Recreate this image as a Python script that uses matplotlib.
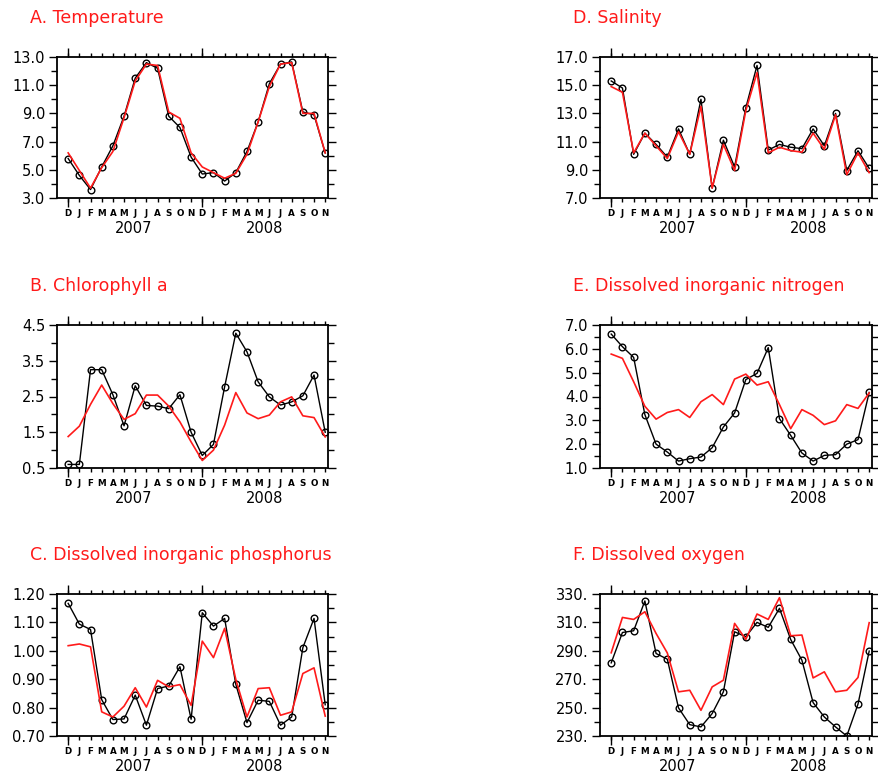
import matplotlib
matplotlib.use("Agg")
import numpy as np
import matplotlib.pyplot as plt
from matplotlib.ticker import FixedLocator, FuncFormatter
import matplotlib.transforms as mtransforms

# Monthly series, Dec 2006 - Nov 2008
month_labels = ["D", "J", "F", "M", "A", "M", "J", "J", "A", "S", "O", "N",
                "D", "J", "F", "M", "A", "M", "J", "J", "A", "S", "O", "N"]
year_labels = ["2007", "2008"]
year_centers = [5.9, 17.6]

temp_obs = [5.8, 4.6, 3.6, 5.2, 6.7, 8.8, 11.5, 12.6, 12.2, 8.8, 8.0, 5.9,
            4.7, 4.8, 4.2, 4.8, 6.3, 8.4, 11.1, 12.5, 12.65, 9.1, 8.9, 6.2]
temp_mod = [6.2, 4.95, 3.7, 5.15, 6.3, 8.7, 11.3, 12.5, 12.4, 9.1, 8.65, 6.2,
            5.2, 4.8, 4.4, 4.75, 6.1, 8.4, 10.9, 12.5, 12.6, 9.0, 9.0, 6.2]

chla_obs = [0.6, 0.6, 3.25, 3.25, 2.55, 1.68, 2.8, 2.25, 2.23, 2.16, 2.55, 1.5,
            0.85, 1.16, 2.77, 4.27, 3.75, 2.91, 2.49, 2.26, 2.35, 2.52, 3.1, 1.5]
chla_mod = [1.38, 1.67, 2.28, 2.82, 2.3, 1.86, 2.02, 2.54, 2.54, 2.23, 1.79, 1.23,
            0.71, 1.0, 1.7, 2.61, 2.04, 1.88, 1.98, 2.35, 2.49, 1.96, 1.91, 1.37]

dip_obs = [1.167, 1.094, 1.075, 0.828, 0.758, 0.76, 0.844, 0.738, 0.867, 0.876, 0.944, 0.759,
           1.134, 1.087, 1.114, 0.882, 0.747, 0.826, 0.822, 0.738, 0.767, 1.011, 1.114, 0.81]
dip_mod = [1.018, 1.024, 1.014, 0.785, 0.767, 0.805, 0.87, 0.802, 0.896, 0.873, 0.881, 0.808,
           1.034, 0.976, 1.079, 0.899, 0.767, 0.867, 0.87, 0.773, 0.785, 0.92, 0.94, 0.77]

sal_obs = [15.3, 14.8, 10.1, 11.6, 10.8, 9.9, 11.9, 10.1, 14.0, 7.7, 11.1, 9.2,
           13.4, 16.4, 10.4, 10.8, 10.6, 10.5, 11.9, 10.7, 13.0, 8.95, 10.35, 9.1]
sal_mod = [14.9, 14.5, 10.2, 11.6, 10.7, 9.8, 11.7, 10.1, 13.5, 7.7, 10.8, 8.95,
           13.2, 15.9, 10.2, 10.6, 10.36, 10.25, 11.6, 10.45, 12.9, 8.65, 10.2, 8.8]

din_obs = [6.62, 6.09, 5.64, 3.24, 2.0, 1.67, 1.29, 1.39, 1.46, 1.85, 2.72, 3.31,
           4.71, 4.97, 6.05, 3.07, 2.37, 1.63, 1.29, 1.53, 1.56, 2.0, 2.19, 4.17]
din_mod = [5.78, 5.6, 4.62, 3.59, 3.05, 3.33, 3.45, 3.12, 3.78, 4.08, 3.66, 4.73,
           4.94, 4.48, 4.62, 3.66, 2.65, 3.45, 3.21, 2.82, 2.98, 3.66, 3.5, 4.15]

do_obs = [281.5, 302.9, 304.1, 325.1, 288.1, 284.1, 249.8, 238.0, 236.4, 245.8, 261.1, 303.4,
          299.9, 310.0, 306.5, 319.9, 298.0, 283.4, 253.5, 243.4, 236.4, 230.0, 252.4, 289.8]
do_mod = [288.6, 313.5, 312.1, 317.5, 302.2, 288.5, 261.1, 262.2, 248.1, 264.6, 269.3, 309.3,
          298.0, 315.9, 312.1, 327.4, 300.6, 301.1, 270.9, 275.2, 261.1, 262.2, 271.2, 309.8]

panels = [
    # title, obs, model, ymin, ymax, major step, minor step, label format, axes box (px)
    ("A. Temperature", temp_obs, temp_mod, 3.0, 13.0, 2.0, 1.0, "{:.1f}", (57, 57, 328, 198)),
    ("B. Chlorophyll a", chla_obs, chla_mod, 0.5, 4.5, 1.0, 0.5, "{:.1f}", (57, 325, 328, 468)),
    ("C. Dissolved inorganic phosphorus", dip_obs, dip_mod, 0.70, 1.20, 0.10, 0.05, "{:.2f}", (57, 594, 328, 736)),
    ("D. Salinity", sal_obs, sal_mod, 7.0, 17.0, 2.0, 1.0, "{:.1f}", (600, 57, 872, 198)),
    ("E. Dissolved inorganic nitrogen", din_obs, din_mod, 1.0, 7.0, 1.0, 0.5, "{:.1f}", (600, 325, 872, 468)),
    ("F. Dissolved oxygen", do_obs, do_mod, 230.0, 330.0, 20.0, 10.0, "{:.0f}.", (600, 594, 872, 736)),
]

W, H = 879, 774
fig = plt.figure(figsize=(W / 100, H / 100), dpi=100)
red = "#ff1a1a"

for title, obs, mod, y0, y1, ymaj, ymin_step, fmt, (l, t, r, b) in panels:
    ax = fig.add_axes([l / W, 1 - b / H, (r - l) / W, (b - t) / H])
    x = list(range(len(month_labels)))
    ax.plot(x, obs, color="black", lw=1.0, marker="o", ms=4.8, mfc="none",
            mec="black", mew=1.0, zorder=3)
    ax.plot(x, mod, color=red, lw=1.2, zorder=4)

    ax.set_xlim(-1, 23.25)
    ax.set_ylim(y0, y1)

    # long ticks at each December, short ticks with letters at every month
    ax.xaxis.set_major_locator(FixedLocator([0, 12]))
    ax.xaxis.set_major_formatter(FuncFormatter(lambda v, p: ""))
    ax.xaxis.set_minor_locator(FixedLocator(x))
    ax.xaxis.set_minor_formatter(FuncFormatter(lambda v, p: month_labels[int(round(v))]
                                               if 0 <= int(round(v)) < len(month_labels) else ""))
    ax.xaxis.remove_overlapping_locs = False

    eps = ymin_step * 0.01
    ax.yaxis.set_major_locator(FixedLocator(np.arange(y0, y1 + eps, ymaj)))
    ax.yaxis.set_minor_locator(FixedLocator(np.arange(y0, y1 + eps, ymin_step)))
    ax.yaxis.set_major_formatter(FuncFormatter(lambda v, p, f=fmt: f.format(v)))

    ax.tick_params(axis="x", which="both", direction="out", top=True, bottom=True,
                   width=1.0, color="black")
    ax.tick_params(axis="x", which="major", length=6.5)
    ax.tick_params(axis="x", which="minor", length=3.2, pad=5, labelsize=6.3)
    ax.tick_params(axis="y", which="both", direction="out", left=True, right=True,
                   width=1.0, color="black")
    ax.tick_params(axis="y", which="major", length=5.5, labelsize=10.5, pad=3)
    ax.tick_params(axis="y", which="minor", length=4.0)
    for lab in ax.xaxis.get_minorticklabels():
        lab.set_fontweight("bold")

    for sp in ax.spines.values():
        sp.set_linewidth(1.3)

    trans = mtransforms.blended_transform_factory(ax.transData, ax.transAxes)
    for yl, xc in zip(year_labels, year_centers):
        ax.text(xc, -0.215, yl, transform=trans, ha="center", va="center", fontsize=10.5)

    fig.text((l - 27) / W, 1 - (t - 39) / H, title, color=red, fontsize=12.5,
             ha="left", va="center")

fig.savefig("out.png", dpi=100, facecolor="white")
